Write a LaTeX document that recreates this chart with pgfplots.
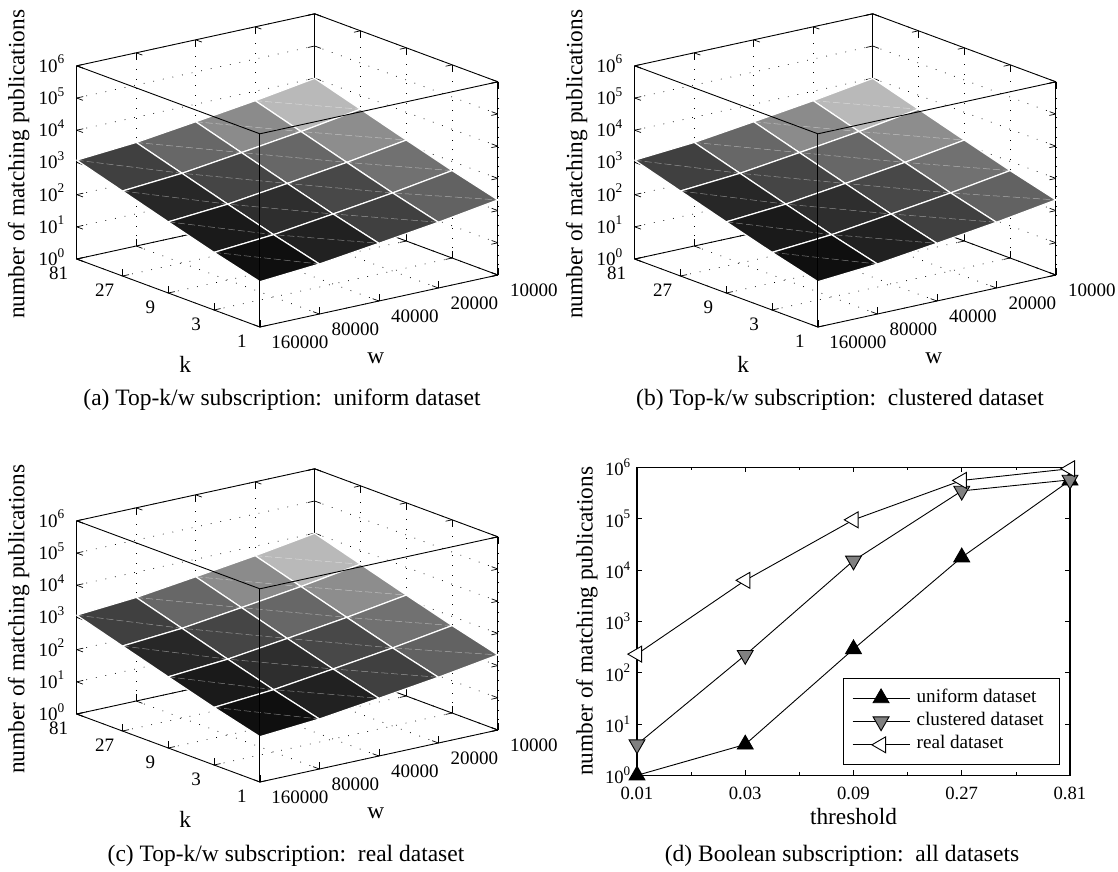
\documentclass[border=0pt]{standalone}
\usepackage{fontspec}
\setmainfont{Liberation Serif}
\usepackage{pgfplots}
\usepackage{pgfplotstable}
\pgfplotsset{compat=1.18}
% one patch per cell: w index, k index, log10 of the value, grey level of the cell
\pgfplotstableread{
x y z c
0 0 1.407 0.06
1 0 1.553 0.06
1 1 1.936 0.06
0 1 1.790 0.06
1 0 1.553 0.13
2 0 1.792 0.13
2 1 2.175 0.13
1 1 1.936 0.13
2 0 1.792 0.25
3 0 2.042 0.25
3 1 2.425 0.25
2 1 2.175 0.25
3 0 2.042 0.38
4 0 2.332 0.38
4 1 2.715 0.38
3 1 2.425 0.38
0 1 1.790 0.10
1 1 1.936 0.10
1 2 2.356 0.10
0 2 2.210 0.10
1 1 1.936 0.18
2 1 2.175 0.18
2 2 2.595 0.18
1 2 2.356 0.18
2 1 2.175 0.28
3 1 2.425 0.28
3 2 2.845 0.28
2 2 2.595 0.28
3 1 2.425 0.44
4 1 2.715 0.44
4 2 3.135 0.44
3 2 2.845 0.44
0 2 2.210 0.15
1 2 2.356 0.15
1 3 2.786 0.15
0 3 2.640 0.15
1 2 2.356 0.27
2 2 2.595 0.27
2 3 3.025 0.27
1 3 2.786 0.27
2 2 2.595 0.40
3 2 2.845 0.40
3 3 3.275 0.40
2 3 3.025 0.40
3 2 2.845 0.55
4 2 3.135 0.55
4 3 3.565 0.55
3 3 3.275 0.55
0 3 2.640 0.25
1 3 2.786 0.25
1 4 3.216 0.25
0 4 3.070 0.25
1 3 2.786 0.40
2 3 3.025 0.40
2 4 3.455 0.40
1 4 3.216 0.40
2 3 3.025 0.54
3 3 3.275 0.54
3 4 3.705 0.54
2 4 3.455 0.54
3 3 3.275 0.72
4 3 3.565 0.72
4 4 3.995 0.72
3 4 3.705 0.72
}\surfdata
\newcommand\surfplots{%
 \addplot3[patch,patch type=rectangle,shader=faceted,faceted color=white,line width=0.36pt,point meta=explicit] table[x=x,y=y,z=z,meta=c]{\surfdata};
 \addplot3[diag] coordinates {(0,1,1.790)(1,0,1.553)};
 \addplot3[diag] coordinates {(0,2,2.210)(1,1,1.936)(2,0,1.792)};
 \addplot3[diag] coordinates {(0,3,2.640)(1,2,2.356)(2,1,2.175)(3,0,2.042)};
 \addplot3[diag] coordinates {(0,4,3.070)(1,3,2.786)(2,2,2.595)(3,1,2.425)(4,0,2.332)};
 \addplot3[diag] coordinates {(1,4,3.216)(2,3,3.025)(3,2,2.845)(4,1,2.715)};
 \addplot3[diag] coordinates {(2,4,3.455)(3,3,3.275)(4,2,3.135)};
 \addplot3[diag] coordinates {(3,4,3.705)(4,3,3.565)};
 \addplot3[boxline] coordinates {(0,4,6)(0,0,6)(4,0,6)};
 \addplot3[boxline] coordinates {(0,0,0)(0,0,6)};
}
\pgfplotsset{
 diag/.style={white,opacity=0.45,line width=0.15pt,dash pattern=on 2.1pt off 0.9pt,no marks},
 boxline/.style={black,line width=0.27pt,no marks},
 surfaxis/.style={
  anchor=south west,
  x={(17.85pt,3.9pt)}, y={(-13.74pt,5.1pt)}, z={(0pt,9.66pt)},
  clip=false,
  xmin=0,xmax=4,ymin=0,ymax=4,zmin=0,zmax=6,
  xtick={0,1,2,3,4}, xticklabels={\hspace{2.4pt}160000,80000,40000,20000,10000},
  ytick={0,1,2,3,4}, yticklabels={1,3,9,27,81},
  ztick={0,1,2,3,4,5,6},
  zticklabels={10\textsuperscript{0},10\textsuperscript{1},10\textsuperscript{2},10\textsuperscript{3},10\textsuperscript{4},10\textsuperscript{5},10\textsuperscript{6}},
  grid=major, major grid style={black,line width=0.21pt,dash pattern=on 0.24pt off 2.7pt},
  axis line style={line width=0.27pt,black}, tick style={black,line width=0.21pt},
  major tick length=2pt,
  colormap={gr}{gray(0cm)=(0); gray(1cm)=(1)}, point meta min=0, point meta max=1,
  tick label style={font=\fontsize{5.7}{6.6}\selectfont},
  xticklabel style={anchor=center,xshift=10.8pt,yshift=-4.65pt},
  yticklabel style={anchor=center,xshift=-5.4pt,yshift=-4.3pt},
  zticklabel style={anchor=east,xshift=0.3pt,yshift=0.6pt},
  label style={font=\fontsize{7}{8}\selectfont},
  xlabel={w}, ylabel={k}, zlabel={number of matching publications},
  xlabel style={at={(axis cs:2,0,0)},anchor=center,xshift=-0.9pt,yshift=-17.2pt},
  ylabel style={at={(axis cs:0,2,0)},anchor=center,xshift=5.1pt,yshift=-21.3pt},
  zlabel style={at={(axis cs:0,4,3)},anchor=center,xshift=-0.6pt,yshift=17.4pt},
 }
}
\begin{document}
\begin{tikzpicture}[x=0.3pt,y=0.3pt]
\path[use as bounding box] (0,0) rectangle (1118,871);
\begin{axis}[surfaxis,at={(23.01pt,163.2pt)}] \surfplots \end{axis}
\begin{axis}[surfaxis,at={(190.41pt,163.2pt)}] \surfplots \end{axis}
\begin{axis}[surfaxis,at={(23.01pt,26.7pt)}] \surfplots \end{axis}
\begin{axis}[at={(191.1pt,28.7pt)},anchor=south west,width=129.9pt,height=92.4pt,scale only axis,
  clip=false, ymode=log, xmin=0,xmax=4,ymin=1,ymax=1000000,
  xtick={0,1,2,3,4}, xticklabels={0.01,0.03,0.09,0.27,0.81}, minor x tick num=1,
  ytick={1,10,100,1000,10000,100000,1000000},
  yticklabels={10\textsuperscript{0},10\textsuperscript{1},10\textsuperscript{2},10\textsuperscript{3},10\textsuperscript{4},10\textsuperscript{5},10\textsuperscript{6}},
  yminorticks=false,
  tick align=inside, major tick length=1.5pt, minor tick length=0.9pt,
  axis line style={line width=0.33pt,black}, tick style={black,line width=0.21pt},
  tick label style={font=\fontsize{5.6}{6.6}\selectfont},
  yticklabel style={xshift=2pt},
  label style={font=\fontsize{7}{8}\selectfont},
  xlabel={threshold}, ylabel={number of matching publications},
  xlabel style={at={(axis cs:2,1)},anchor=center,yshift=-12.5pt},
  ylabel style={at={(axis cs:0,1000)},anchor=center,yshift=15pt},
  legend style={anchor=south east,at={(0.977,0.033)},draw=black,line width=0.33pt,font=\fontsize{5.75}{6.6}\selectfont,cells={anchor=west},inner xsep=2.7pt,inner ysep=1.2pt,row sep=-2.5pt},
  every axis plot/.append style={line width=0.27pt,black},
]
\addplot[mark=triangle*,mark size=2.75pt,mark options={fill=black,draw=black}] coordinates {(0,1)(1,4)(2,288)(3,17700)(4,556000)};
\addplot[mark=triangle*,mark size=2.75pt,mark options={fill=gray,draw=black,rotate=180}] coordinates {(0,4)(1,220)(2,15200)(3,348000)(4,570000)};
\addplot[mark=triangle*,mark size=2.75pt,mark options={fill=white,draw=black,rotate=90}] coordinates {(0,230)(1,6300)(2,95000)(3,556000)(4,940000)};
\legend{uniform dataset,clustered dataset,real dataset}
\end{axis}
\begin{scope}[font=\fontsize{7.05}{8.4}\selectfont]
\node at (282,471) {(a) Top-k/w subscription:\ \ uniform dataset};
\node at (840,471) {(b) Top-k/w subscription:\ \ clustered dataset};
\node at (286,15) {(c) Top-k/w subscription:\ \ real dataset};
\node at (842,15) {(d) Boolean subscription:\ \ all datasets};
\end{scope}
\end{tikzpicture}
\end{document}
